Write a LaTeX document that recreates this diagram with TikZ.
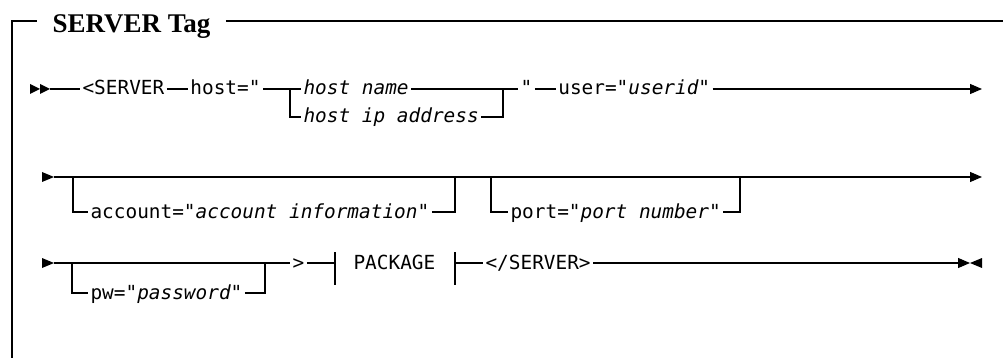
\documentclass[tikz,border=0pt]{standalone}
\usepackage{fontspec}
\setmainfont{Liberation Serif}
\newfontfamily\rrfont{DejaVu Sans Mono}
\usetikzlibrary{arrows.meta,positioning}

\begin{document}
\begin{tikzpicture}[x=1pt, y=-1pt, line width=1.1pt,
  tok/.style={inner xsep=2pt, inner ysep=0pt, text height=14pt, text depth=2pt,
    anchor=west, font=\rrfont\fontsize{19.4}{22}\selectfont},
  tip/.style={-{Triangle[length=12pt,width=10pt]}}]
\useasboundingbox (0,0) rectangle (1003,358);
% frame and title
\node[font=\bfseries\fontsize{27}{30}\selectfont, inner xsep=15pt, anchor=base west] (ttl) at (37,33) {SERVER Tag};
\coordinate (tl) at (12,21);
\coordinate (tr) at (1003,21);
\coordinate (bl) at (12,358);
\draw (bl) -- (tl) -- (tl -| ttl.west);
\draw (tl -| ttl.east) -- (tr);

% row 1
\fill (30,84) -- (40,89) -- (30,94) -- cycle;
\fill (40,84) -- (50,89) -- (40,94) -- cycle;
\coordinate (s1) at (50,89);
\node[tok] (srv) at (80,89) {<SERVER};
\node[tok, right=21pt of srv] (host) {host=\textit{"}};
\coordinate (h1) at (290,89);
\node[tok] (hname) at (301,89) {\textit{host name}};
\node[tok] (hip) at (301,117) {\textit{host ip address}};
\coordinate (h2) at (503,89);
\node[tok] (hq) at (518,89) {\textit{"}};
\node[tok, right=21pt of hq] (user) {user=\textit{"userid"}};
\coordinate (e1) at (982,89);
\draw (s1) -- (srv.west);
\draw (srv.east) -- (host.west);
\draw (host.east) -- (hname.west);
\draw (h1) |- (hip.west);
\draw (hname.east) -- (hq.west);
\draw (hip.east) -| (h2);
\draw (hq.east) -- (user.west);
\draw[tip] (user.east) -- (e1);

% row 2
\fill (42,172) -- (54,177) -- (42,182) -- cycle;
\coordinate (s2) at (54,177);
\coordinate (a1) at (73,177);
\node[tok] (acct) at (88,212) {account=\textit{"account information"}};
\coordinate (a2) at (455,177);
\coordinate (p1) at (491,177);
\node[tok] (port) at (508,212) {port=\textit{"port number"}};
\coordinate (p2) at (740,177);
\coordinate (e2) at (982,177);
\draw[tip] (s2) -- (e2);
\draw (a1) |- (acct.west);
\draw (acct.east) -| (a2);
\draw (p1) |- (port.west);
\draw (port.east) -| (p2);

% row 3
\fill (42,258) -- (54,263) -- (42,268) -- cycle;
\coordinate (s3) at (54,263);
\coordinate (c1) at (72,263);
\node[tok] (pw) at (88,293) {pw=\textit{"password"}};
\coordinate (c2) at (265,263);
\node[tok] (gt) at (290,263) {>};
\coordinate (kl) at (335,263);
\node[tok] (pkg) at (351,263) {PACKAGE};
\coordinate (kr) at (455,263);
\node[tok] (esrv) at (483,263) {</SERVER>};
\coordinate (e3) at (970,263);
\draw (s3) -- (gt.west);
\draw (c1) |- (pw.west);
\draw (pw.east) -| (c2);
\draw (gt.east) -- (kl);
\draw ([yshift=11pt]kl) -- ([yshift=-22pt]kl);
\draw ([yshift=11pt]kr) -- ([yshift=-22pt]kr);
\draw (kr) -- (esrv.west);
\draw[tip] (esrv.east) -- (e3);
\fill (982,258) -- (970,263) -- (982,268) -- cycle;
\end{tikzpicture}
\end{document}
